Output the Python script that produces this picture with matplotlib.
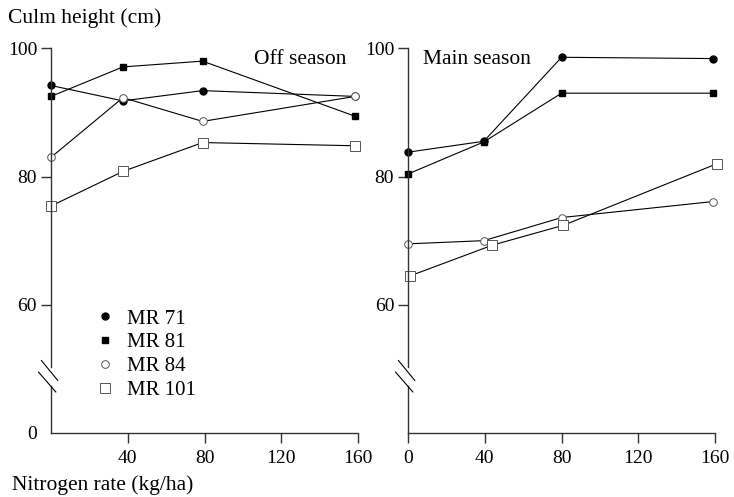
import matplotlib.pyplot as plt
from matplotlib.lines import Line2D

plt.rcParams['font.family'] = ['Liberation Serif', 'DejaVu Serif']
plt.rcParams['font.size'] = 14

# Nitrogen rate (kg/ha), as plotted in each panel
rate_off = [0, 37.5, 79, 158.5]
rate_main = [0, 39.5, 80, 159]
rate_main_101 = [1, 44, 81, 161]

# Culm height (cm), off season
off_mr71 = [94.2, 91.8, 93.4, 92.5]
off_mr81 = [92.5, 97.1, 98.0, 89.4]
off_mr84 = [83.0, 92.3, 88.6, 92.5]
off_mr101 = [75.4, 80.8, 85.3, 84.8]

# Culm height (cm), main season
main_mr71 = [83.8, 85.5, 98.6, 98.4]
main_mr81 = [80.4, 85.4, 93.0, 93.0]
main_mr84 = [69.5, 70.0, 73.6, 76.1]
main_mr101 = [64.5, 69.3, 72.4, 82.0]

varieties = ['MR 71', 'MR 81', 'MR 84', 'MR 101']

styles = {
    'MR 71': dict(marker='o', ms=5, mfc='black', mec='black'),
    'MR 81': dict(marker='s', ms=5, mfc='black', mec='black'),
    'MR 84': dict(marker='o', ms=5.5, mfc='white', mec='#555555', mew=0.7),
    'MR 101': dict(marker='s', ms=6.5, mfc='white', mec='#555555', mew=0.7),
}

fig = plt.figure(figsize=(7.34, 4.97), dpi=100)
ax1 = fig.add_axes([0.0695, 0.1288, 0.4183, 0.774])
ax2 = fig.add_axes([0.5559, 0.1288, 0.4183, 0.774])


def draw_panel(ax, xs, series):
    for xv, yv, name in zip(xs, series, varieties):
        ax.plot(xv, yv, color='black', lw=0.8, clip_on=False, **styles[name])
    ax.set_xlim(0, 160)
    ax.set_ylim(40, 100)
    for s in ['top', 'right', 'left']:
        ax.spines[s].set_visible(False)
    ax.spines['bottom'].set_color('#333333')
    ax.spines['bottom'].set_linewidth(1.0)
    # broken y axis
    ax.plot([0, 0], [100, 50.3], color='#333333', lw=1.0, clip_on=False)
    ax.plot([0, 0], [47.3, 40], color='#333333', lw=1.0, clip_on=False)
    ax.plot([-5, 3.5], [51.3, 48.2], color='black', lw=0.8, clip_on=False)
    ax.plot([-6.5, 2.5], [49.5, 46.4], color='black', lw=0.8, clip_on=False)
    ax.tick_params(direction='out', length=7, width=1.0, color='#333333',
                   pad=3, labelsize=14)
    ax.tick_params(axis='x', pad=5)


draw_panel(ax1, [rate_off] * 4, [off_mr71, off_mr81, off_mr84, off_mr101])
draw_panel(ax2, [rate_main, rate_main, rate_main, rate_main_101],
           [main_mr71, main_mr81, main_mr84, main_mr101])

ax1.set_xticks([40, 80, 120, 160])
ax1.set_yticks([40, 60, 80, 100])
ax1.set_yticklabels(['0', '60', '80', '100'])
ax1.yaxis.get_major_ticks()[0].tick1line.set_visible(False)
ax2.set_xticks([0, 40, 80, 120, 160])
ax2.set_yticks([60, 80, 100])

ax1.text(106, 98.3, 'Off season', va='center', ha='left', fontsize=15.5)
ax2.text(7.7, 98.3, 'Main season', va='center', ha='left', fontsize=15.5)

handles = [Line2D([], [], ls='none', **styles[v]) for v in varieties]
ax1.legend(handles, varieties, loc='upper left', bbox_to_anchor=(0.129, 0.378),
           bbox_transform=fig.transFigure, frameon=False, fontsize=15,
           handlelength=1.0, handletextpad=0.55, labelspacing=0.2,
           borderpad=0, borderaxespad=0)

fig.text(8 / 734, 1 - 18 / 497, 'Culm height (cm)', va='center', ha='left',
         fontsize=15.5)
fig.text(12 / 734, 1 - 485 / 497, 'Nitrogen rate (kg/ha)', va='center',
         ha='left', fontsize=15.5)

fig.savefig('out.png', dpi=100)
